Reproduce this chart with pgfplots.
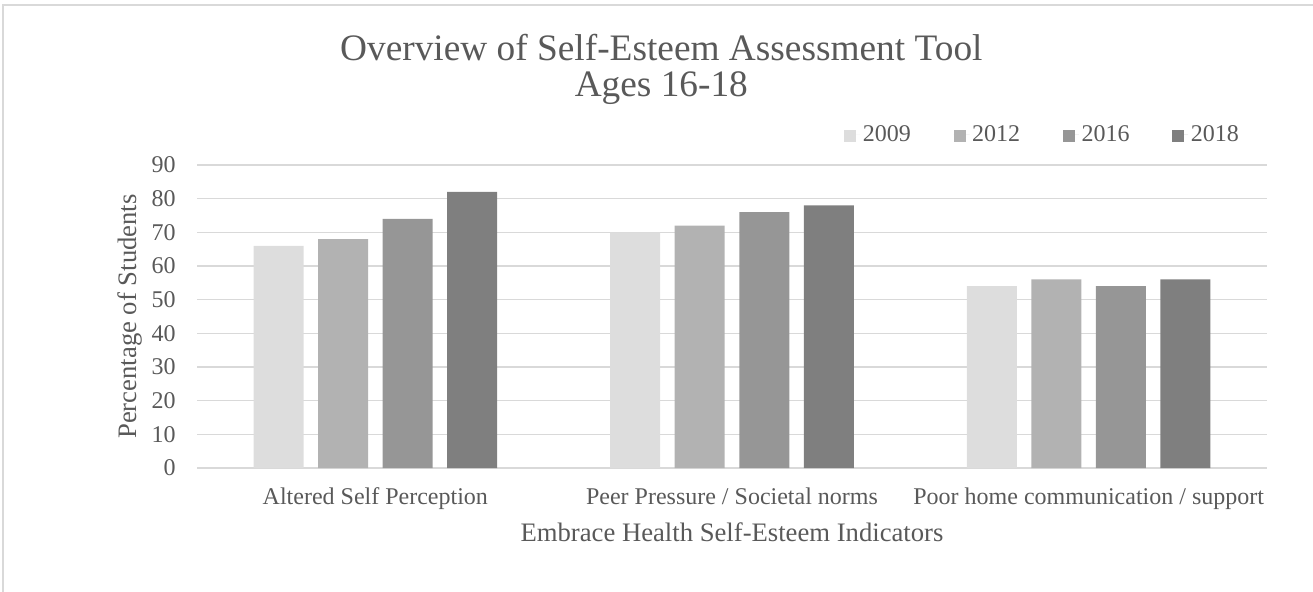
\documentclass[border=0pt]{standalone}
\usepackage{fontspec}
\setmainfont{Liberation Serif}
\usepackage{pgfplots}
\pgfplotsset{compat=1.18}
\definecolor{txt}{HTML}{595959}
\definecolor{gridc}{HTML}{D9D9D9}
\definecolor{cA}{HTML}{DDDDDD}
\definecolor{cB}{HTML}{B2B2B2}
\definecolor{cC}{HTML}{969696}
\definecolor{cD}{HTML}{7F7F7F}
\begin{document}
\begin{tikzpicture}
\useasboundingbox (0,0) rectangle (984.75pt,-444pt);
\draw[gridc, line width=1.2pt] (2.25pt,-3.75pt) rectangle (995pt,-460pt);
\node[txt, font=\fontsize{28}{30}\selectfont, anchor=base, inner sep=0pt] at (496pt,-45.5pt) {Overview of Self-Esteem Assessment Tool};
\node[txt, font=\fontsize{28}{30}\selectfont, anchor=base, inner sep=0pt] at (496pt,-72pt) {Ages 16-18};
\begin{axis}[
  at={(147.75pt,-351pt)}, anchor=south west,
  scale only axis, width=802.5pt, height=227.25pt,
  xmin=-0.5, xmax=2.5, ymin=0, ymax=90,
  ybar=10.9pt, bar width=37.5pt,
  xtick={0,1,2},
  xticklabels={Altered Self Perception, Peer Pressure / Societal norms, Poor home communication / support},
  ytick={0,10,...,90},
  major tick length=0pt,
  axis line style={draw=none},
  ymajorgrids, grid style={gridc, line width=1.1pt},
  /pgf/number format/assume math mode=true,
  tick label style={txt, font=\fontsize{18}{20}\selectfont},
  xticklabel style={anchor=base, yshift=-27pt},
  yticklabel style={anchor=east, inner sep=0pt, xshift=-15.75pt},
  xlabel={Embrace Health Self-Esteem Indicators},
  ylabel={Percentage of Students},
  label style={txt, font=\fontsize{20}{22}\selectfont},
  xlabel style={at={(axis description cs:0.5,-0.244)}, anchor=base},
  ylabel style={at={(axis description cs:-0.0626,0.5)}, anchor=center, rotate=0},
  legend columns=4,
  legend style={at={(axis description cs:0.6046,1.1007)}, anchor=west, draw=none, fill=none,
    font=\fontsize{18}{20}\selectfont, text=txt, inner sep=0pt,
    /tikz/every even column/.append style={column sep=30pt}},
  legend image code/.code={\fill[#1, draw=none] (0pt,-5.5pt) rectangle (9pt,3.5pt); \path (0pt,0pt) -- (12pt,0pt);},
]
\addplot[fill=cA, draw=none] coordinates {(0,66) (1,70) (2,54)};
\addplot[fill=cB, draw=none] coordinates {(0,68) (1,72) (2,56)};
\addplot[fill=cC, draw=none] coordinates {(0,74) (1,76) (2,54)};
\addplot[fill=cD, draw=none] coordinates {(0,82) (1,78) (2,56)};
\legend{2009,2012,2016,2018}
\end{axis}
\end{tikzpicture}
\end{document}
